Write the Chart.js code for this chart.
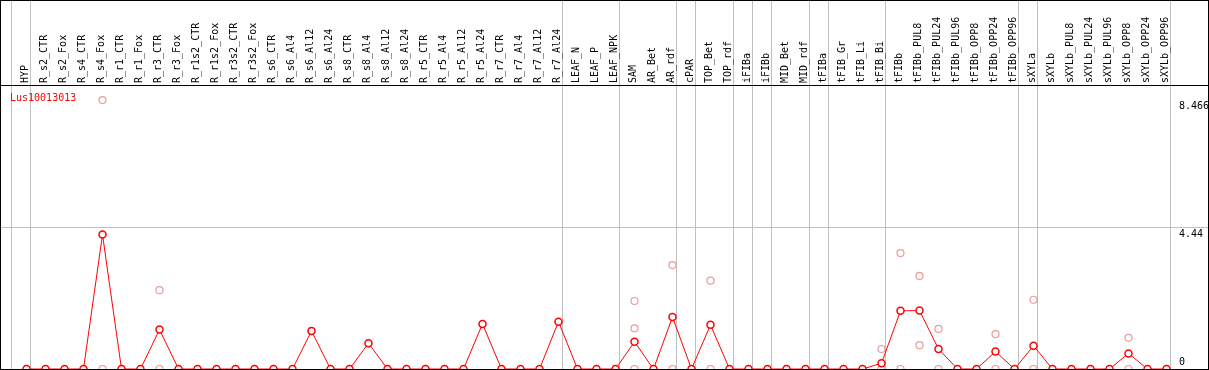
<!DOCTYPE html>
<html>
<head>
<meta charset="utf-8">
<script src="https://cdn.jsdelivr.net/npm/chart.js@4/dist/chart.umd.min.js"></script>
<style>
  body { margin: 0; background: #fff; }
  #wrap { position: absolute; left: 0; top: 0; width: 1209px; height: 370px; box-sizing: border-box;
          border: 1px solid #000; border-bottom: none; }
  canvas { display: block; }
</style>
</head>
<body>
<div id="wrap"><canvas id="myChart" width="1207" height="369"></canvas></div>
<script>
// gene shown
const GENE = 'Lus10013013';

// sample names (x axis)
const CATEGORIES = ['HYP', 'R_s2_CTR', 'R_s2_Fox', 'R_s4_CTR', 'R_s4_Fox', 'R_r1_CTR', 'R_r1_Fox',
  'R_r3_CTR', 'R_r3_Fox', 'R_r1s2_CTR', 'R_r1s2_Fox', 'R_r3s2_CTR', 'R_r3s2_Fox', 'R_s6_CTR',
  'R_s6_Al4', 'R_s6_Al12', 'R_s6_Al24', 'R_s8_CTR', 'R_s8_Al4', 'R_s8_Al12', 'R_s8_Al24',
  'R_r5_CTR', 'R_r5_Al4', 'R_r5_Al12', 'R_r5_Al24', 'R_r7_CTR', 'R_r7_Al4', 'R_r7_Al12', 'R_r7_Al24',
  'LEAF_N', 'LEAF_P', 'LEAF_NPK', 'SAM', 'AR_Bet', 'AR_rdf', 'cPAR', 'TOP_Bet', 'TOP_rdf',
  'iFIBa', 'iFIBb', 'MID_Bet', 'MID_rdf', 'tFIBa', 'tFIB_Gr', 'tFIB_Li', 'tFIB_Bi', 'tFIBb',
  'tFIBb_PUL8', 'tFIBb_PUL24', 'tFIBb_PUL96', 'tFIBb_OPP8', 'tFIBb_OPP24', 'tFIBb_OPP96',
  'sXYLa', 'sXYLb', 'sXYLb_PUL8', 'sXYLb_PUL24', 'sXYLb_PUL96', 'sXYLb_OPP8', 'sXYLb_OPP24', 'sXYLb_OPP96'];

// mean expression per sample
const MEANS = [0, 0, 0, 0, 4.233, 0, 0, 1.24, 0, 0, 0, 0, 0, 0, 0, 1.20, 0, 0, 0.81, 0,
  0, 0, 0, 0, 1.42, 0, 0, 0, 1.49, 0, 0, 0, 0.855, 0, 1.635, 0, 1.39, 0, 0, 0,
  0, 0, 0, 0, 0, 0.18, 1.83, 1.84, 0.63, 0, 0, 0.55, 0, 0.73, 0, 0, 0, 0, 0.49, 0, 0];

// single replicates (sample index, value)
const REP_IDX = [4, 4, 7, 7, 32, 32, 32, 34, 34, 36, 36, 45, 45, 46, 46, 47, 47, 48, 48, 51, 51, 53, 53, 58, 58];
const REP_VAL = [8.466, 0, 2.48, 0, 2.14, 1.28, 0, 3.27, 0, 2.78, 0, 0.63, 0, 3.65, 0, 2.93, 0.75, 1.26, 0, 1.10, 0, 2.18, 0, 0.98, 0];

// group boundaries: after these sample indices
const GROUP_ENDS = [-1, 0, 28, 31, 34, 35, 37, 38, 39, 41, 42, 45, 52, 53, 60];

// y ticks shown on the right
const Y_TICKS = [0, 4.44, 8.466];

const YMAX = 8.94;
const XMIN = -25.5 / 19;
const XMAX = XMIN + 1170 / 19;
const FONT = { family: '"DejaVu Sans Mono", monospace', size: 10 };
const GRAY = '#c0c0c0';

const seriesLabel = {
  id: 'seriesLabel',
  afterDatasetsDraw(chart) {
    const ctx = chart.ctx;
    ctx.save();
    ctx.font = '10px "DejaVu Sans Mono", monospace';
    ctx.fillStyle = '#ff0000';
    ctx.textBaseline = 'middle';
    ctx.textAlign = 'left';
    ctx.fillText(GENE, chart.chartArea.left + 9, chart.chartArea.top + 13);
    ctx.restore();
  }
};

const ctx = document.getElementById('myChart').getContext('2d');

const config = {
  type: 'line',
  data: {
    datasets: [{
      label: GENE,
      data: MEANS.map((v, i) => ({ x: i, y: v })),
      borderColor: '#ff0000',
      borderWidth: 1,
      pointRadius: 3.5,
      pointBorderWidth: 1.5,
      pointBorderColor: '#ff0000',
      pointBackgroundColor: '#ffffff',
      tension: 0,
      xAxisID: 'x',
      yAxisID: 'y'
    }, {
      label: 'replicates',
      type: 'scatter',
      data: REP_IDX.map((x, i) => ({ x: x, y: REP_VAL[i] })),
      showLine: false,
      pointRadius: 3.5,
      pointBorderWidth: 1.2,
      pointBorderColor: '#eb9b9b',
      pointBackgroundColor: 'rgba(0,0,0,0)',
      xAxisID: 'x',
      yAxisID: 'y'
    }]
  },
  options: {
    responsive: false,
    animation: false,
    events: [],
    layout: { autoPadding: false, padding: { left: 0, right: 0, top: 0, bottom: 1 } },
    plugins: { legend: { display: false }, tooltip: { enabled: false } },
    scales: {
      x: {
        type: 'linear', position: 'top', weight: 1, min: XMIN, max: XMAX,
        afterBuildTicks: s => { s.ticks = CATEGORIES.map((c, i) => ({ value: i })); },
        afterFit: s => { s.height = 84; },
        grid: { display: false, drawTicks: false },
        border: { display: true, color: '#000', width: 1 },
        ticks: {
          autoSkip: false, minRotation: 90, maxRotation: 90, padding: 2, labelOffset: 11,
          font: FONT, color: '#000',
          callback: v => CATEGORIES[v]
        }
      },
      groups: {
        type: 'linear', position: 'top', weight: 0, min: XMIN, max: XMAX,
        afterBuildTicks: s => { s.ticks = GROUP_ENDS.map(g => ({ value: g + 0.21 })); },
        afterFit: s => { s.height = 0; },
        grid: { color: GRAY, lineWidth: 1, drawTicks: true, tickLength: 84 },
        border: { display: false },
        ticks: { display: false }
      },
      y: {
        type: 'linear', position: 'right', min: 0, max: YMAX,
        afterBuildTicks: s => { s.ticks = Y_TICKS.concat([YMAX]).map(v => ({ value: v })); },
        afterFit: s => { s.width = 37; },
        grid: {
          drawTicks: true, tickLength: 37, lineWidth: 1,
          color: c => {
            const v = c.tick && c.tick.value;
            if (v === 0 || v === YMAX) return '#000';
            if (v === 4.44) return GRAY;
            return 'rgba(0,0,0,0)';
          }
        },
        border: { display: false },
        ticks: {
          crossAlign: 'near', padding: -29, color: '#000',
          font: { family: FONT.family, size: 10, lineHeight: '13px' },
          callback: v => {
            if (v === YMAX) return '';
            if (v === 0) return ['0', ''];
            return ['', String(v)];
          }
        }
      }
    }
  },
  plugins: [seriesLabel]
};

const chart = new Chart(ctx, config);
</script>
</body>
</html>
